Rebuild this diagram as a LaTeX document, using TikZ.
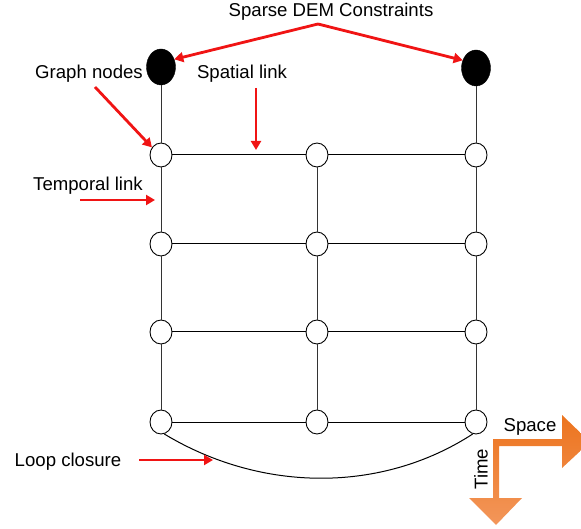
\documentclass[tikz,border=0pt]{standalone}
\usepackage{fontspec}
\setmainfont{Liberation Sans}
\usetikzlibrary{arrows.meta,shapes.geometric}
\definecolor{redarrow}{RGB}{240,20,20}
\definecolor{orangeA}{RGB}{236,116,30}
\definecolor{orangeB}{RGB}{243,150,90}
\tikzset{
  gnode/.style={ellipse,draw=black,line width=0.9pt,fill=white,minimum width=22pt,minimum height=24pt,inner sep=0pt},
  dnode/.style={ellipse,draw=black,fill=black,minimum width=29pt,minimum height=36pt,inner sep=0pt},
  link/.style={draw=black!80,line width=1pt},
  callout/.style={draw=redarrow,line width=2.8pt,-{Triangle[length=9pt,width=10pt]}},
  lbl/.style={font=\fontsize{18.6}{20}\selectfont,inner sep=0pt},
}
\begin{document}
\begin{tikzpicture}[x=1pt,y=-1pt]
\useasboundingbox (0,0) rectangle (581,529);
\clip (0,0) rectangle (581,529);
% graph nodes
\node[dnode] (d1) at (161,67) {};
\node[dnode] (d3) at (476,68) {};
\foreach \r/\y in {1/155,2/244,3/332,4/422}{
  \node[gnode] (n\r1) at (161,\y) {};
  \node[gnode] (n\r2) at (317,\y) {};
  \node[gnode] (n\r3) at (476,\y) {};
}
% temporal links
\draw[link] (d1) -- (n11);
\draw[link] (d3) -- (n13);
\foreach \a/\b in {1/2,2/3,3/4}{
  \draw[link] (n\a1) -- (n\b1);
  \draw[link] (n\a2) -- (n\b2);
  \draw[link] (n\a3) -- (n\b3);
}
% spatial links
\foreach \r in {1,2,3,4}{
  \draw[link,draw=black] (n\r1) -- (n\r2);
  \draw[link,draw=black] (n\r2) -- (n\r3);
}
% loop closure
\draw[link,draw=black] (n41.-75) .. controls (262,493) and (382,493) .. (n43.-105);
% labels
\node[lbl] (tdem) at (331,12) {Sparse DEM Constraints};
\node[lbl] (tgraph) at (89,74) {Graph nodes};
\node[lbl] (tspatial) at (242,74) {Spatial link};
\node[lbl] (ttemp) at (88,186) {Temporal link};
\node[lbl] (tloop) at (68,462) {Loop closure};
% callout arrows
\coordinate (cdem) at (318,24);
\coordinate (cgraph) at (95,87);
\coordinate (cspatial) at (256,88);
\coordinate (ctemp) at (80,200);
\coordinate (ctempe) at (155,200);
\coordinate (cloop) at (139,460);
\coordinate (cloope) at (213,460);
\draw[callout] (cdem) -- (d1.30);
\draw[callout] (cdem) -- (d3.150);
\draw[callout] (cgraph) -- (n11.140);
\draw[callout] (cspatial) -- (256,150);
\draw[callout] (ctemp) -- (ctempe);
\draw[callout] (cloop) -- (cloope);
% space-time arrow
\shade[top color=orangeA,bottom color=orangeB]
  (493,439) -- (562,439) -- (562,415) -- (590,442) -- (562,468) -- (562,446)
  -- (499,446) -- (499,498) -- (522,498) -- (496,525) -- (469,498) -- (493,498) -- cycle;
\node[lbl] (tspace) at (530,427) {Space};
\node[lbl,rotate=90] (ttime) at (481,469) {Time};
\end{tikzpicture}
\end{document}
